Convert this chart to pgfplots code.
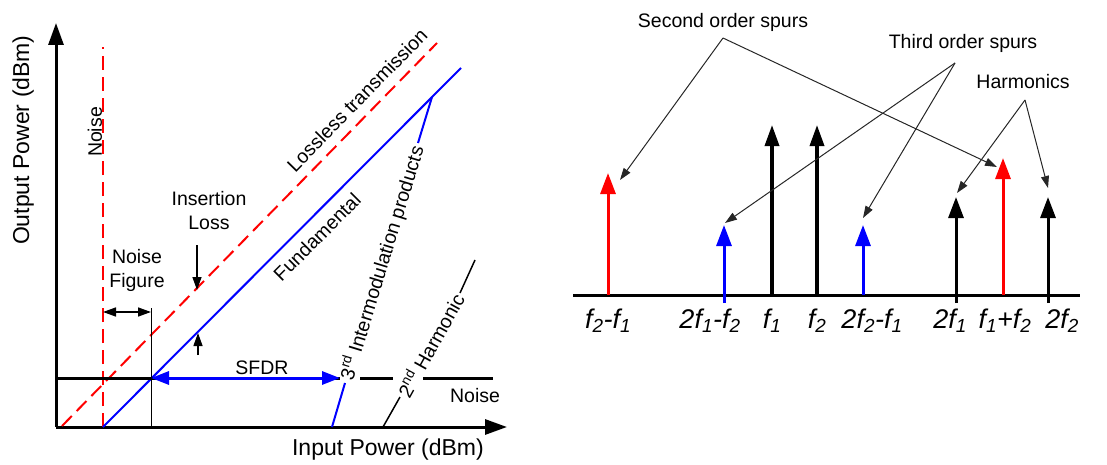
\documentclass[border=0pt]{standalone}
\usepackage{fontspec}
\setmainfont{Liberation Sans}
\usepackage{pgfplots}
\pgfplotsset{compat=1.18}
\usetikzlibrary{arrows.meta}
\definecolor{myred}{RGB}{255,0,0}
\definecolor{myblue}{RGB}{0,0,255}
\newcommand{\anno}{\fontsize{19.5}{24}\selectfont}
\newcommand{\biglab}{\fontsize{23}{27}\selectfont}
\newcommand{\flab}{\fontsize{27}{30}\selectfont\itshape}
\begin{document}
\begin{tikzpicture}[x=1pt,y=1pt]
\path[use as bounding box] (0,0) rectangle (1107,464);
% ---------------- left panel ----------------
\begin{axis}[
  at={(56pt,37pt)}, anchor=south west, scale only axis,
  x=1pt, y=1pt, xmin=0, xmax=451, ymin=0, ymax=404,
  axis lines=left, xtick=\empty, ytick=\empty, clip=false,
  axis line style={line width=3pt},
  every outer x axis line/.append style={-{Triangle[length=22pt,width=15pt]}},
  every outer y axis line/.append style={-{Triangle[length=22pt,width=15pt]}},
  xlabel={Input Power (dBm)}, ylabel={Output Power (dBm)},
  xlabel style={at={(axis description cs:0.736,-0.057)}, anchor=center, font=\biglab},
  ylabel style={at={(axis description cs:-0.073,0.710)}, anchor=center, font=\biglab},
]
\addplot[myred, line width=2pt, dash pattern=on 14pt off 7pt] coordinates {(47,0) (47,380)};
\addplot[myred, line width=2pt, dash pattern=on 14pt off 7pt] coordinates {(6,1) (381,384)};
\addplot[myblue, line width=2pt] coordinates {(47,0) (405,359)};
\addplot[black, line width=3pt] coordinates {(0,49) (284,49)};
\addplot[black, line width=3pt] coordinates {(304,49) (337,49)};
\addplot[black, line width=3pt] coordinates {(367,49) (437,49)};
\addplot[black, line width=1pt] coordinates {(95,0) (95,119)};
\addplot[black, line width=1.5pt, {Triangle[length=13pt,width=9pt]}-{Triangle[length=13pt,width=9pt]}] coordinates {(47,115) (95,115)};
\addplot[black, line width=1.3pt, -{Triangle[length=13pt,width=9pt]}] coordinates {(141,182) (141,137)};
\addplot[black, line width=1.3pt, -{Triangle[length=13pt,width=9pt]}] coordinates {(142,72) (142,94)};
\addplot[myblue, line width=3pt, {Triangle[length=18pt,width=13pt]}-{Triangle[length=18pt,width=13pt]}] coordinates {(95,49) (284,49)};
\addplot[myblue, line width=2pt] coordinates {(276,0) (289,44)};
\addplot[myblue, line width=2pt] coordinates {(362,284) (376,330)};
\addplot[black, line width=1.5pt] coordinates {(327,0) (344,30)};
\addplot[black, line width=1.5pt] coordinates {(404,134) (419,167)};
\node[rotate=90, font=\anno] at (axis cs:39,295) {Noise};
\node[rotate=45.6, font=\anno] at (axis cs:301,327) {Lossless transmission};
\node[align=center, font=\anno] at (axis cs:153,216) {Insertion\\Loss};
\node[align=center, font=\anno] at (axis cs:81,157) {Noise\\Figure};
\node[rotate=45, font=\anno] at (axis cs:261,190) {Fundamental};
\node[rotate=73, font=\anno] at (axis cs:326,164) {3\textsuperscript{rd} Intermodulation products};
\node[rotate=61, font=\anno] at (axis cs:374,82) {2\textsuperscript{nd} Harmonic};
\node[font=\anno] at (axis cs:206,59) {SFDR};
\node[font=\anno] at (axis cs:419,31) {Noise};
\end{axis}
% ---------------- right panel ----------------
\begin{axis}[
  at={(573pt,169pt)}, anchor=south west, scale only axis,
  x=1pt, y=1pt, xmin=0, xmax=507, ymin=0, ymax=290,
  hide axis, clip=false,
]
\addplot[black, line width=3pt] coordinates {(0,0) (507,0)};
\addplot[myred, line width=3pt, -{Triangle[length=21pt,width=15pt]}] coordinates {(35,0) (35,122)};
\addplot[myblue, line width=3pt, -{Triangle[length=21pt,width=15pt]}] coordinates {(151,-8) (151,70)};
\addplot[black, line width=3.5pt, -{Triangle[length=21pt,width=14pt]}] coordinates {(199,0) (199,170)};
\addplot[black, line width=3.5pt, -{Triangle[length=21pt,width=14pt]}] coordinates {(244,0) (244,170)};
\addplot[myblue, line width=3pt, -{Triangle[length=21pt,width=15pt]}] coordinates {(290,0) (290,70)};
\addplot[black, line width=3pt, -{Triangle[length=21pt,width=15pt]}] coordinates {(383,-8) (383,98)};
\addplot[myred, line width=3pt, -{Triangle[length=21pt,width=15pt]}] coordinates {(430,0) (430,137)};
\addplot[black, line width=3pt, -{Triangle[length=21pt,width=15pt]}] coordinates {(475,-8) (475,98)};
% annotation leaders
\addplot[black!85, line width=1pt, -{Triangle[length=12pt,width=8pt]}] coordinates {(150,257) (47,115)};
\addplot[black!85, line width=1pt, -{Triangle[length=12pt,width=8pt]}] coordinates {(150,257) (424,128)};
\addplot[black!85, line width=1pt, -{Triangle[length=12pt,width=8pt]}] coordinates {(382,232) (152,72)};
\addplot[black!85, line width=1pt, -{Triangle[length=12pt,width=8pt]}] coordinates {(382,232) (290,77)};
\addplot[black!85, line width=1pt, -{Triangle[length=12pt,width=8pt]}] coordinates {(452,195) (384,102)};
\addplot[black!85, line width=1pt, -{Triangle[length=12pt,width=8pt]}] coordinates {(452,195) (475,107)};
\node[font=\anno] at (axis cs:150,273) {Second order spurs};
\node[font=\anno] at (axis cs:390,252) {Third order spurs};
\node[font=\anno] at (axis cs:450,213) {Harmonics};
\node[font=\flab, anchor=base] at (axis cs:35,-33) {f\textsubscript{2}-f\textsubscript{1}};
\node[font=\flab, anchor=base] at (axis cs:137,-33) {2f\textsubscript{1}-f\textsubscript{2}};
\node[font=\flab, anchor=base] at (axis cs:199,-33) {f\textsubscript{1}};
\node[font=\flab, anchor=base] at (axis cs:244,-33) {f\textsubscript{2}};
\node[font=\flab, anchor=base] at (axis cs:299,-33) {2f\textsubscript{2}-f\textsubscript{1}};
\node[font=\flab, anchor=base] at (axis cs:377,-33) {2f\textsubscript{1}};
\node[font=\flab, anchor=base] at (axis cs:432,-33) {f\textsubscript{1}+f\textsubscript{2}};
\node[font=\flab, anchor=base] at (axis cs:489,-33) {2f\textsubscript{2}};
\end{axis}
\end{tikzpicture}
\end{document}
